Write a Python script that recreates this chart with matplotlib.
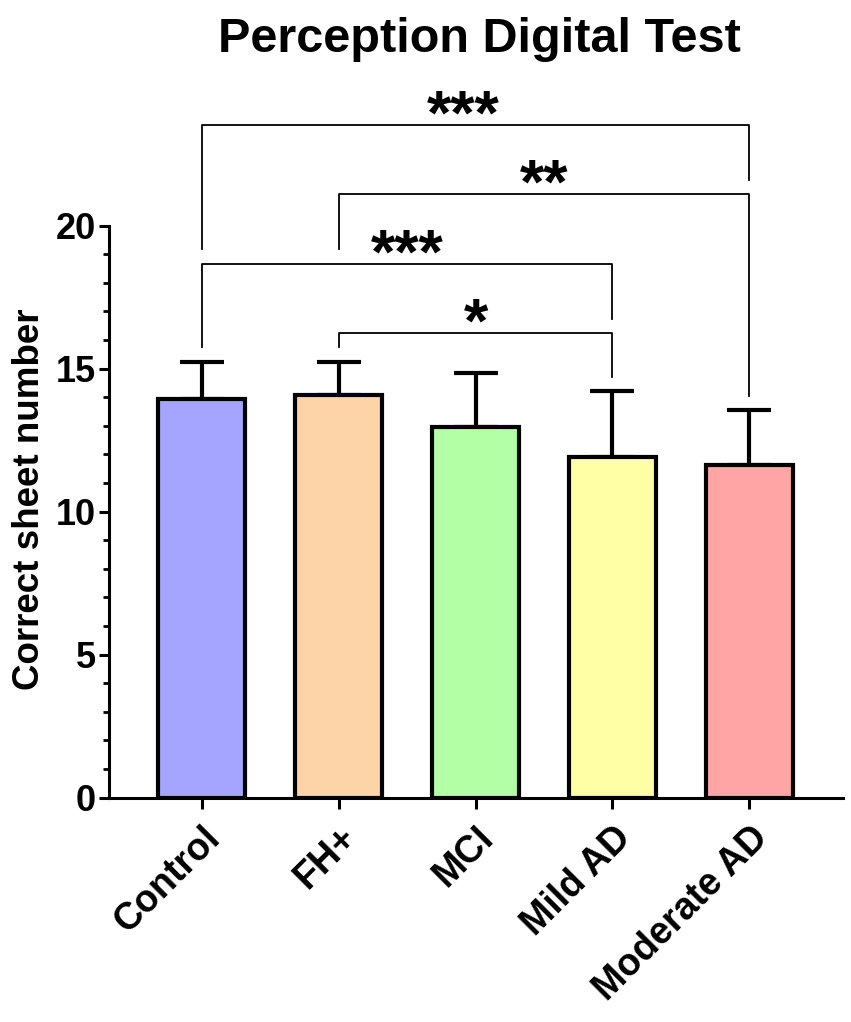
import matplotlib
matplotlib.use("Agg")
import matplotlib.pyplot as plt
from matplotlib.ticker import MultipleLocator

plt.rcParams['font.family'] = ['Liberation Sans', 'DejaVu Sans']
plt.rcParams['font.weight'] = 'bold'

# ---- data ----
categories = ["Control", "FH+", "MCI", "Mild AD", "Moderate AD"]
means = [13.94, 14.08, 12.97, 11.90, 11.62]
sds = [1.30, 1.16, 1.87, 2.31, 1.94]
colors = ["#A5A5FF", "#FDD3A8", "#B3FFA5", "#FFFFA5", "#FFA5A5"]
# significance comparisons (group index pairs), drawn lowest first
comparisons = [(1, 3), (0, 3), (1, 4), (0, 4)]
comp_labels = ["*", "***", "**", "***"]
yticks = [0, 5, 10, 15, 20]

fig = plt.figure(figsize=(8.51, 10.22), dpi=100)
ax = fig.add_axes([0.1281, 0.2195, 0.8622, 0.5597])

x = list(range(len(categories)))
ax.bar(x, means, width=0.633, color=colors, edgecolor="black", linewidth=3.0,
       zorder=2)
ax.errorbar(x, means, yerr=[[0] * len(sds), sds], fmt="none", ecolor="black",
            elinewidth=3.0, capsize=16, capthick=3.0, zorder=1)

ax.set_xlim(-0.677, 4.682)
ax.set_ylim(0, 20)
ax.set_yticks(yticks)
ax.yaxis.set_minor_locator(MultipleLocator(1))
ax.set_xticks(x)
ax.set_xticklabels(categories, rotation=45, ha="right", va="top",
                   rotation_mode="anchor", fontsize=27, fontweight="bold")
for lab in ax.get_yticklabels():
    lab.set_fontsize(26)
    lab.set_fontweight("bold")

for s in ["top", "right"]:
    ax.spines[s].set_visible(False)
for s in ["left", "bottom"]:
    ax.spines[s].set_linewidth(2.2)
ax.tick_params(axis="y", which="major", length=7.5, width=2.2, direction="out", pad=2)
ax.tick_params(axis="y", which="minor", length=4, width=2.0, direction="out")
ax.tick_params(axis="x", which="major", length=8, width=2.2, direction="out", pad=8)

ax.set_ylabel("Correct sheet number", fontsize=26.5, fontweight="bold")
ax.yaxis.set_label_coords(-0.0845, 0.521)
fig.text(0.5635, 1 - 52 / 1022, "Perception Digital Test", fontsize=35,
         fontweight="bold", ha="center", va="baseline")

# ---- significance brackets ----
tops = [m + s for m, s in zip(means, sds)]
gap = 0.5
first = max(tops) + 1.0
step = 2.43
label_dx = [0, 0, 0, -9]  # small horizontal nudge of star text (points)
occupied = list(tops)  # highest element above each group
for k, ((i, j), lab) in enumerate(zip(comparisons, comp_labels)):
    yb = first + k * step
    li = occupied[i] + gap
    rj = occupied[j] + gap
    ax.plot([i, i, j, j], [li, yb, yb, rj], color="black", linewidth=1.3,
            clip_on=False, zorder=3)
    ax.annotate(lab, xy=((i + j) / 2, yb), xytext=(label_dx[k], -6),
                textcoords="offset points", ha="center", va="baseline",
                fontsize=45, fontweight="bold", annotation_clip=False)
    for g in range(i, j + 1):
        occupied[g] = max(occupied[g], yb)

fig.savefig("out.png", dpi=100)
